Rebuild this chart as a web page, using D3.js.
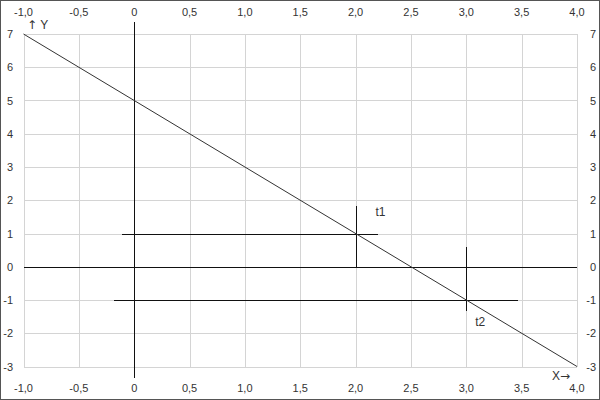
<!DOCTYPE html>
<html><head><meta charset="utf-8">
<script src="https://cdn.jsdelivr.net/npm/d3@7"></script>
<style>body{margin:0;background:#fff}svg{display:block}</style>
</head><body>
<script>
const xTicks = [-1, -0.5, 0, 0.5, 1, 1.5, 2, 2.5, 3, 3.5, 4];
const yTicks = [-3, -2, -1, 0, 1, 2, 3, 4, 5, 6, 7];
const linePoints = [[-1, 7], [4, -3]];
const markerH = [{y: 1, x0: -0.11, x1: 2.2}, {y: -1, x0: -0.18, x1: 3.47}];
const markerV = [{x: 2, y0: 0, y1: 1.82}, {x: 3, y0: -1.34, y1: 0.58}];
const markerLabels = [{text: "t1", x: 2.18, y: 1.52}, {text: "t2", x: 3.08, y: -1.77}];

const W = 600, H = 400;
const x = d3.scaleLinear().domain([-1, 4]).range([23.5, 577]);
const y = d3.scaleLinear().domain([-3, 7]).range([366.5, 34]);
const loc = d3.formatLocale({decimal: ",", thousands: ".", grouping: [3], currency: ["", ""], minus: "-"});
const fmt = d => d === 0 ? "0" : loc.format(".1f")(d);

const svg = d3.select("body").append("svg").attr("width", W).attr("height", H)
  .style("font-family", "'Liberation Sans', Arial, sans-serif").style("font-size", "11px");

svg.append("rect").attr("x", 0.5).attr("y", 0.5).attr("width", W - 1).attr("height", H - 1)
  .attr("fill", "#fff").attr("stroke", "#555");

const g = svg.append("g").attr("shape-rendering", "crispEdges");
g.selectAll(".gx").data(xTicks).join("line")
  .attr("x1", d => Math.round(x(d)) + 0.5).attr("x2", d => Math.round(x(d)) + 0.5)
  .attr("y1", y(7)).attr("y2", y(-3)).attr("stroke", "#d4d4d4");
g.selectAll(".gy").data(yTicks).join("line")
  .attr("y1", d => Math.round(y(d)) + 0.5).attr("y2", d => Math.round(y(d)) + 0.5)
  .attr("x1", x(-1)).attr("x2", x(4)).attr("stroke", "#d4d4d4");

g.append("line").attr("x1", x(-1)).attr("x2", x(4))
  .attr("y1", Math.round(y(0)) + 0.5).attr("y2", Math.round(y(0)) + 0.5).attr("stroke", "#111");
g.append("line").attr("x1", Math.round(x(0)) + 0.5).attr("x2", Math.round(x(0)) + 0.5)
  .attr("y1", 22).attr("y2", 378).attr("stroke", "#111");

g.selectAll(".mh").data(markerH).join("line")
  .attr("x1", d => x(d.x0)).attr("x2", d => x(d.x1))
  .attr("y1", d => Math.round(y(d.y)) + 0.5).attr("y2", d => Math.round(y(d.y)) + 0.5).attr("stroke", "#111");
g.selectAll(".mv").data(markerV).join("line")
  .attr("x1", d => Math.round(x(d.x)) + 0.5).attr("x2", d => Math.round(x(d.x)) + 0.5)
  .attr("y1", d => y(d.y0)).attr("y2", d => y(d.y1)).attr("stroke", "#111");

svg.append("path").datum(linePoints)
  .attr("d", d3.line().x(d => x(d[0])).y(d => y(d[1])))
  .attr("fill", "none").attr("stroke", "#333").attr("stroke-width", 1);

const txt = "#333";
svg.selectAll(".xt").data(xTicks).join("text")
  .attr("x", d => x(d)).attr("y", 16).attr("text-anchor", "middle").attr("fill", txt).text(fmt);
svg.selectAll(".xb").data(xTicks).join("text")
  .attr("x", d => x(d)).attr("y", 392).attr("text-anchor", "middle").attr("fill", txt).text(fmt);
svg.selectAll(".yl").data(yTicks).join("text")
  .attr("x", 13).attr("y", d => y(d) + 4).attr("text-anchor", "end").attr("fill", txt).text(d => d);
svg.selectAll(".yr").data(yTicks).join("text")
  .attr("x", 596).attr("y", d => y(d) + 4).attr("text-anchor", "end").attr("fill", txt).text(d => d);

svg.selectAll(".ml").data(markerLabels).join("text")
  .attr("x", d => x(d.x)).attr("y", d => y(d.y)).attr("fill", txt).style("font-size", "12px").text(d => d.text);

const ty = svg.append("text").attr("x", 27).attr("y", 29).attr("fill", txt).style("font-size", "12px");
ty.append("tspan").style("font-family", "'DejaVu Sans'").text("↑");
ty.append("tspan").text(" Y");
const tx = svg.append("text").attr("x", 552).attr("y", 380).attr("fill", txt).style("font-size", "12px");
tx.append("tspan").text("X");
tx.append("tspan").style("font-family", "'DejaVu Sans'").text("→");
</script>
</body></html>
